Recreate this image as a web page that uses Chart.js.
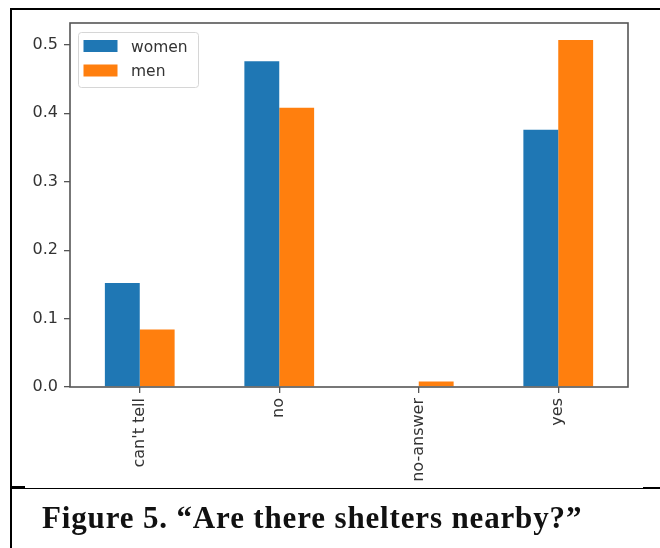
<!DOCTYPE html>
<html>
<head>
<meta charset="utf-8">
<script src="https://cdn.jsdelivr.net/npm/chart.js@4"></script>
<style>
  html, body { margin: 0; padding: 0; background: #fff; }
  body { width: 660px; height: 548px; position: relative; overflow: hidden; }
  #wrap { position: absolute; left: 0; top: 0; width: 660px; height: 548px; }
  .rule { position: absolute; background: #000; }
  #caption {
    position: absolute; left: 42px; top: 500px; white-space: nowrap;
    font: bold 31px/36px "Liberation Serif", serif; letter-spacing: 0.85px; color: #111;
  }
</style>
</head>
<body>
<div id="wrap"><canvas id="chart" width="660" height="548"></canvas></div>
<div class="rule" style="left:10px;top:8px;width:650px;height:2px"></div>
<div class="rule" style="left:10px;top:8px;width:2px;height:540px"></div>
<div class="rule" style="left:10px;top:487.5px;width:650px;height:1.5px"></div>
<div class="rule" style="left:10px;top:486px;width:15px;height:1.5px"></div>
<div class="rule" style="left:643px;top:486.5px;width:17px;height:2.5px"></div>
<div id="caption">Figure 5. “Are there shelters nearby?”</div>
<script>
// Answer shares per group
const categories = ["can't tell", "no", "no-answer", "yes"];
const women = [0.152, 0.476, 0, 0.376];
const men = [0.084, 0.408, 0.008, 0.507];
const seriesNames = ['women', 'men'];
const seriesColors = ['#1f77b4', '#ff7f0e'];
const yTicks = [0, 0.1, 0.2, 0.3, 0.4, 0.5];
const yMax = 0.532;

const INK = '#333';
const SPINE = '#555';
const FONT = { family: 'DejaVu Sans', size: 16 };

// Box around the plot area (all four spines)
const frame = {
  id: 'frame',
  afterDatasetsDraw(chart) {
    const { ctx, chartArea: a } = chart;
    ctx.save();
    ctx.strokeStyle = SPINE;
    ctx.lineWidth = 1.6;
    ctx.strokeRect(a.left, a.top, a.right - a.left, a.bottom - a.top);
    ctx.restore();
  }
};

// Legend drawn inside the upper-left corner of the plot area
const insetLegend = {
  id: 'insetLegend',
  afterDatasetsDraw(chart) {
    const { ctx, chartArea: a } = chart;
    const x = a.left + 8.5, y = a.top + 9.5, w = 120, h = 55, r = 3;
    ctx.save();
    ctx.beginPath();
    ctx.roundRect(x, y, w, h, r);
    ctx.fillStyle = 'rgba(255,255,255,0.8)';
    ctx.fill();
    ctx.strokeStyle = '#d6d6d6';
    ctx.lineWidth = 1;
    ctx.stroke();
    ctx.font = '15.5px "' + FONT.family + '"';
    ctx.textBaseline = 'alphabetic';
    chart.data.datasets.forEach((ds, i) => {
      const cy = y + 13.5 + i * 24.5;
      ctx.fillStyle = ds.backgroundColor;
      ctx.fillRect(x + 5, cy - 6, 34, 12);
      ctx.fillStyle = INK;
      ctx.fillText(ds.label, x + 52.5, cy + 5.5);
    });
    ctx.restore();
  }
};

new Chart(document.getElementById('chart'), {
  type: 'bar',
  data: {
    labels: categories,
    datasets: [
      { label: seriesNames[0], data: women, backgroundColor: seriesColors[0] },
      { label: seriesNames[1], data: men, backgroundColor: seriesColors[1] }
    ]
  },
  options: {
    responsive: false,
    animation: false,
    devicePixelRatio: 1,
    categoryPercentage: 0.5,
    barPercentage: 1.0,
    layout: { padding: { left: 20, top: 23, right: 32, bottom: 51 } },
    plugins: {
      legend: { display: false },
      tooltip: { enabled: false }
    },
    scales: {
      x: {
        grid: { offset: false, drawOnChartArea: false, drawTicks: true, tickLength: 6, color: SPINE, lineWidth: 1.3 },
        border: { display: false },
        ticks: { color: INK, font: FONT, minRotation: 90, maxRotation: 90, padding: 5, autoSkip: false },
        afterFit(scale) { scale.height = 110; }
      },
      y: {
        min: 0,
        max: yMax,
        grid: { drawOnChartArea: false, drawTicks: true, tickLength: 6, color: SPINE, lineWidth: 1.3 },
        border: { display: false },
        ticks: { color: INK, font: FONT, padding: 6, callback: v => Number(v).toFixed(1) },
        afterBuildTicks(scale) { scale.ticks = yTicks.map(v => ({ value: v })); },
        afterFit(scale) { scale.width = 50; }
      }
    }
  },
  plugins: [frame, insetLegend]
});
</script>
</body>
</html>
